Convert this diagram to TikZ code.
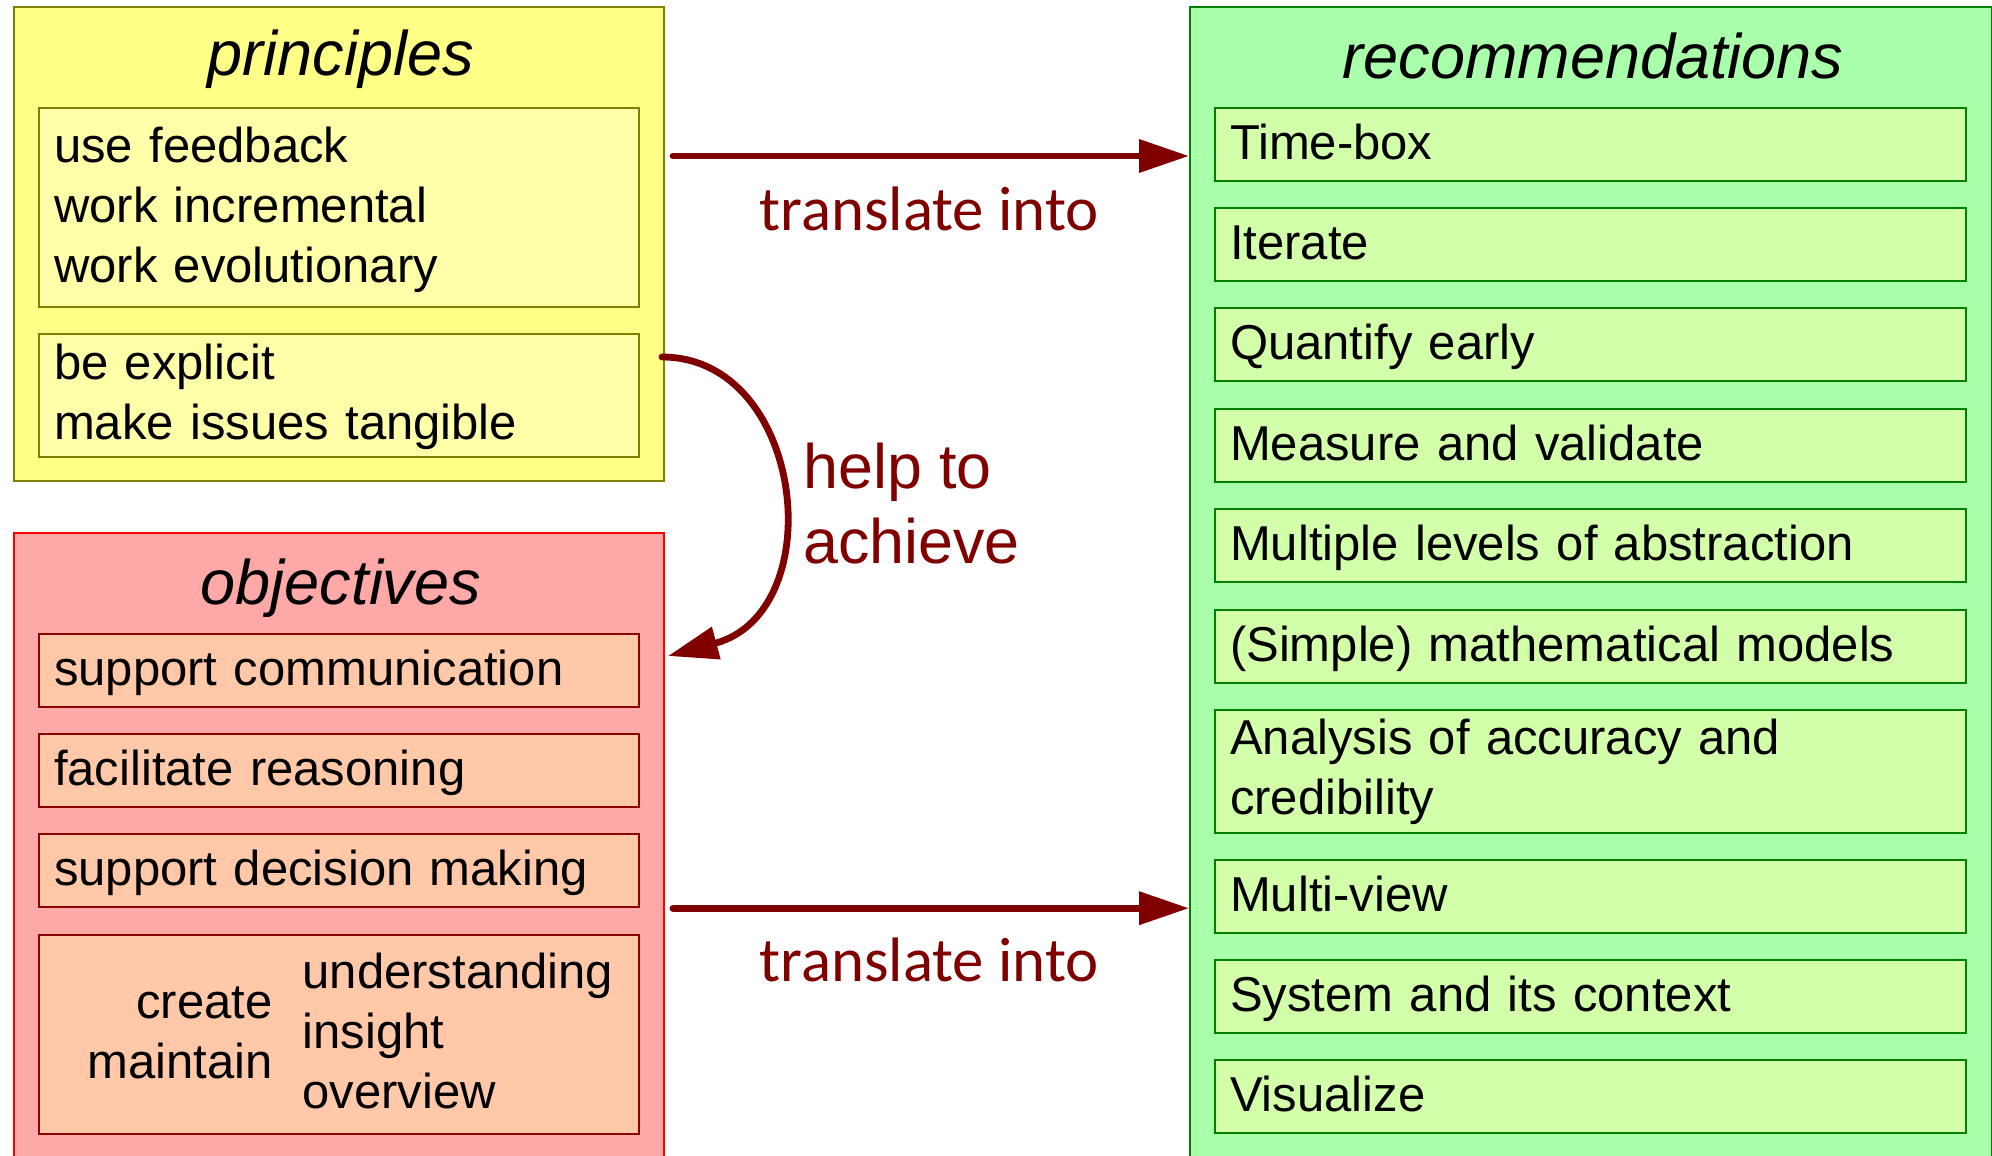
\documentclass[tikz,border=0pt]{standalone}
\usepackage{fontspec}
\setmainfont{Liberation Sans}
\newfontfamily\labelfont{Carlito}
\usepackage{xcolor}
\usepackage{tikz}
\usetikzlibrary{arrows.meta}

\definecolor{prinfill}{HTML}{FFFF88}
\definecolor{prininner}{HTML}{FFFFAA}
\definecolor{prinline}{HTML}{808000}
\definecolor{objfill}{HTML}{FFA8A8}
\definecolor{objinner}{HTML}{FFC8A8}
\definecolor{objline}{HTML}{8B0000}
\definecolor{recfill}{HTML}{AAFFAA}
\definecolor{recinner}{HTML}{D4FFAA}
\definecolor{recline}{HTML}{008000}
\definecolor{arrowred}{HTML}{800000}

\newcommand{\tophigh}[1]{\rule{0pt}{#1}}

\tikzset{
  groupbox/.style={draw, line width=1pt, anchor=north west, inner sep=0pt},
  grouptitle/.style={anchor=base, font=\fontsize{31.5}{36}\selectfont\itshape},
  itembox/.style={draw, line width=1.1pt, anchor=north west, inner xsep=7.5pt, inner ysep=0pt, align=left, font=\fontsize{24.5}{30}\selectfont},
  oneline/.style={itembox, text height=14.7pt, text depth=0pt, minimum height=36.5pt},
  prinitem/.style={fill=prininner, draw=prinline, text width=285pt},
  objitem/.style={fill=objinner, draw=objline, text width=285pt},
  recitem/.style={fill=recinner, draw=recline, text width=360.5pt},
  transarrow/.style={draw=arrowred, line width=3.4pt, line cap=round, -{Triangle[length=25pt, width=16pt]}},
  translabel/.style={text=arrowred, anchor=base, font=\labelfont\fontsize{31.4}{36}\selectfont},
}

\begin{document}
\begin{tikzpicture}[x=0.5pt, y=-0.5pt]
    \useasboundingbox (0,0) rectangle (1992,1156);
    \clip (0,0) rectangle (1992,1156);
    % the three groups
    \node [groupbox, fill=prinfill, draw=prinline, minimum width=325pt, minimum height=237pt] (prin) at (13,6) {};
    \node [groupbox, fill=objfill, draw=red, minimum width=325pt, minimum height=330pt] (obj) at (13,532) {};
    \node [groupbox, fill=recfill, draw=recline, minimum width=401pt, minimum height=600pt] (rec) at (1189,6) {};
    \node [grouptitle] (printitle) at (341,76) {principles};
    \node [grouptitle] (objtitle) at (341,604) {objectives};
    \node [grouptitle] (rectitle) at (1593,79) {recommendations};

    \node [itembox, prinitem, minimum height=99.5pt] (feedback) at (38,107) {\tophigh{20.4pt}use feedback\\work incremental\\work evolutionary};
    \node [itembox, prinitem, minimum height=61.5pt] (explicit) at (38,333) {\tophigh{19.2pt}be explicit\\make issues tangible};

    \node [oneline, objitem] (comm) at (38,633) {support communication};
    \node [oneline, objitem] (reason) at (38,733) {facilitate reasoning};
    \node [oneline, objitem] (decide) at (38,833) {support decision making};
    \node [itembox, objitem, minimum height=99.5pt] (make) at (38,934) {};
    \node [anchor=west, inner sep=0pt, font=\fontsize{24.5}{30}\selectfont] (maketext) at (87,1036) {\begin{tabular}[c]{@{}r@{}}create\\maintain\end{tabular}\hspace{15pt}\begin{tabular}[c]{@{}l@{}}understanding\\insight\\overview\end{tabular}};

    \node [oneline, recitem] (timebox) at (1214,107) {Time-box};
    \node [oneline, recitem] (iterate) at (1214,207) {Iterate};
    \node [oneline, recitem] (quantify) at (1214,307) {Quantify early};
    \node [oneline, recitem] (measure) at (1214,408) {Measure and validate};
    \node [oneline, recitem] (levels) at (1214,508) {Multiple levels of abstraction};
    \node [oneline, recitem] (models) at (1214,609) {(Simple) mathematical models};
    \node [itembox, recitem, minimum height=61.5pt] (accuracy) at (1214,709) {Analysis of accuracy and\\credibility};
    \node [oneline, recitem] (multiview) at (1214,859) {Multi-view};
    \node [oneline, recitem] (context) at (1214,959) {System and its context};
    \node [oneline, recitem] (visualize) at (1214,1059) {Visualize};

    % arrows between the groups
    \coordinate (trtop) at (0,156);
    \draw [transarrow, shorten <=4pt] (prin.east |- trtop) -- (rec.west |- trtop);
    \node [translabel] (trtoplabel) at (929,230) {translate into};
    \draw [transarrow, shorten <=4pt] (obj.east |- decide.south) -- (rec.west |- decide.south);
    \node [translabel] (trbotlabel) at (929,981) {translate into};
    \coordinate (helpstart) at (662,357);
    \coordinate (helpend) at (668,656);
    \draw [transarrow] (helpstart) .. controls (805,357) and (832,612) .. (helpend);
    \node [anchor=north west, inner sep=0pt, align=left, text=arrowred, font=\fontsize{31.4}{37.5}\selectfont] (helplabel) at (803,443) {help to\\achieve};
\end{tikzpicture}
\end{document}
